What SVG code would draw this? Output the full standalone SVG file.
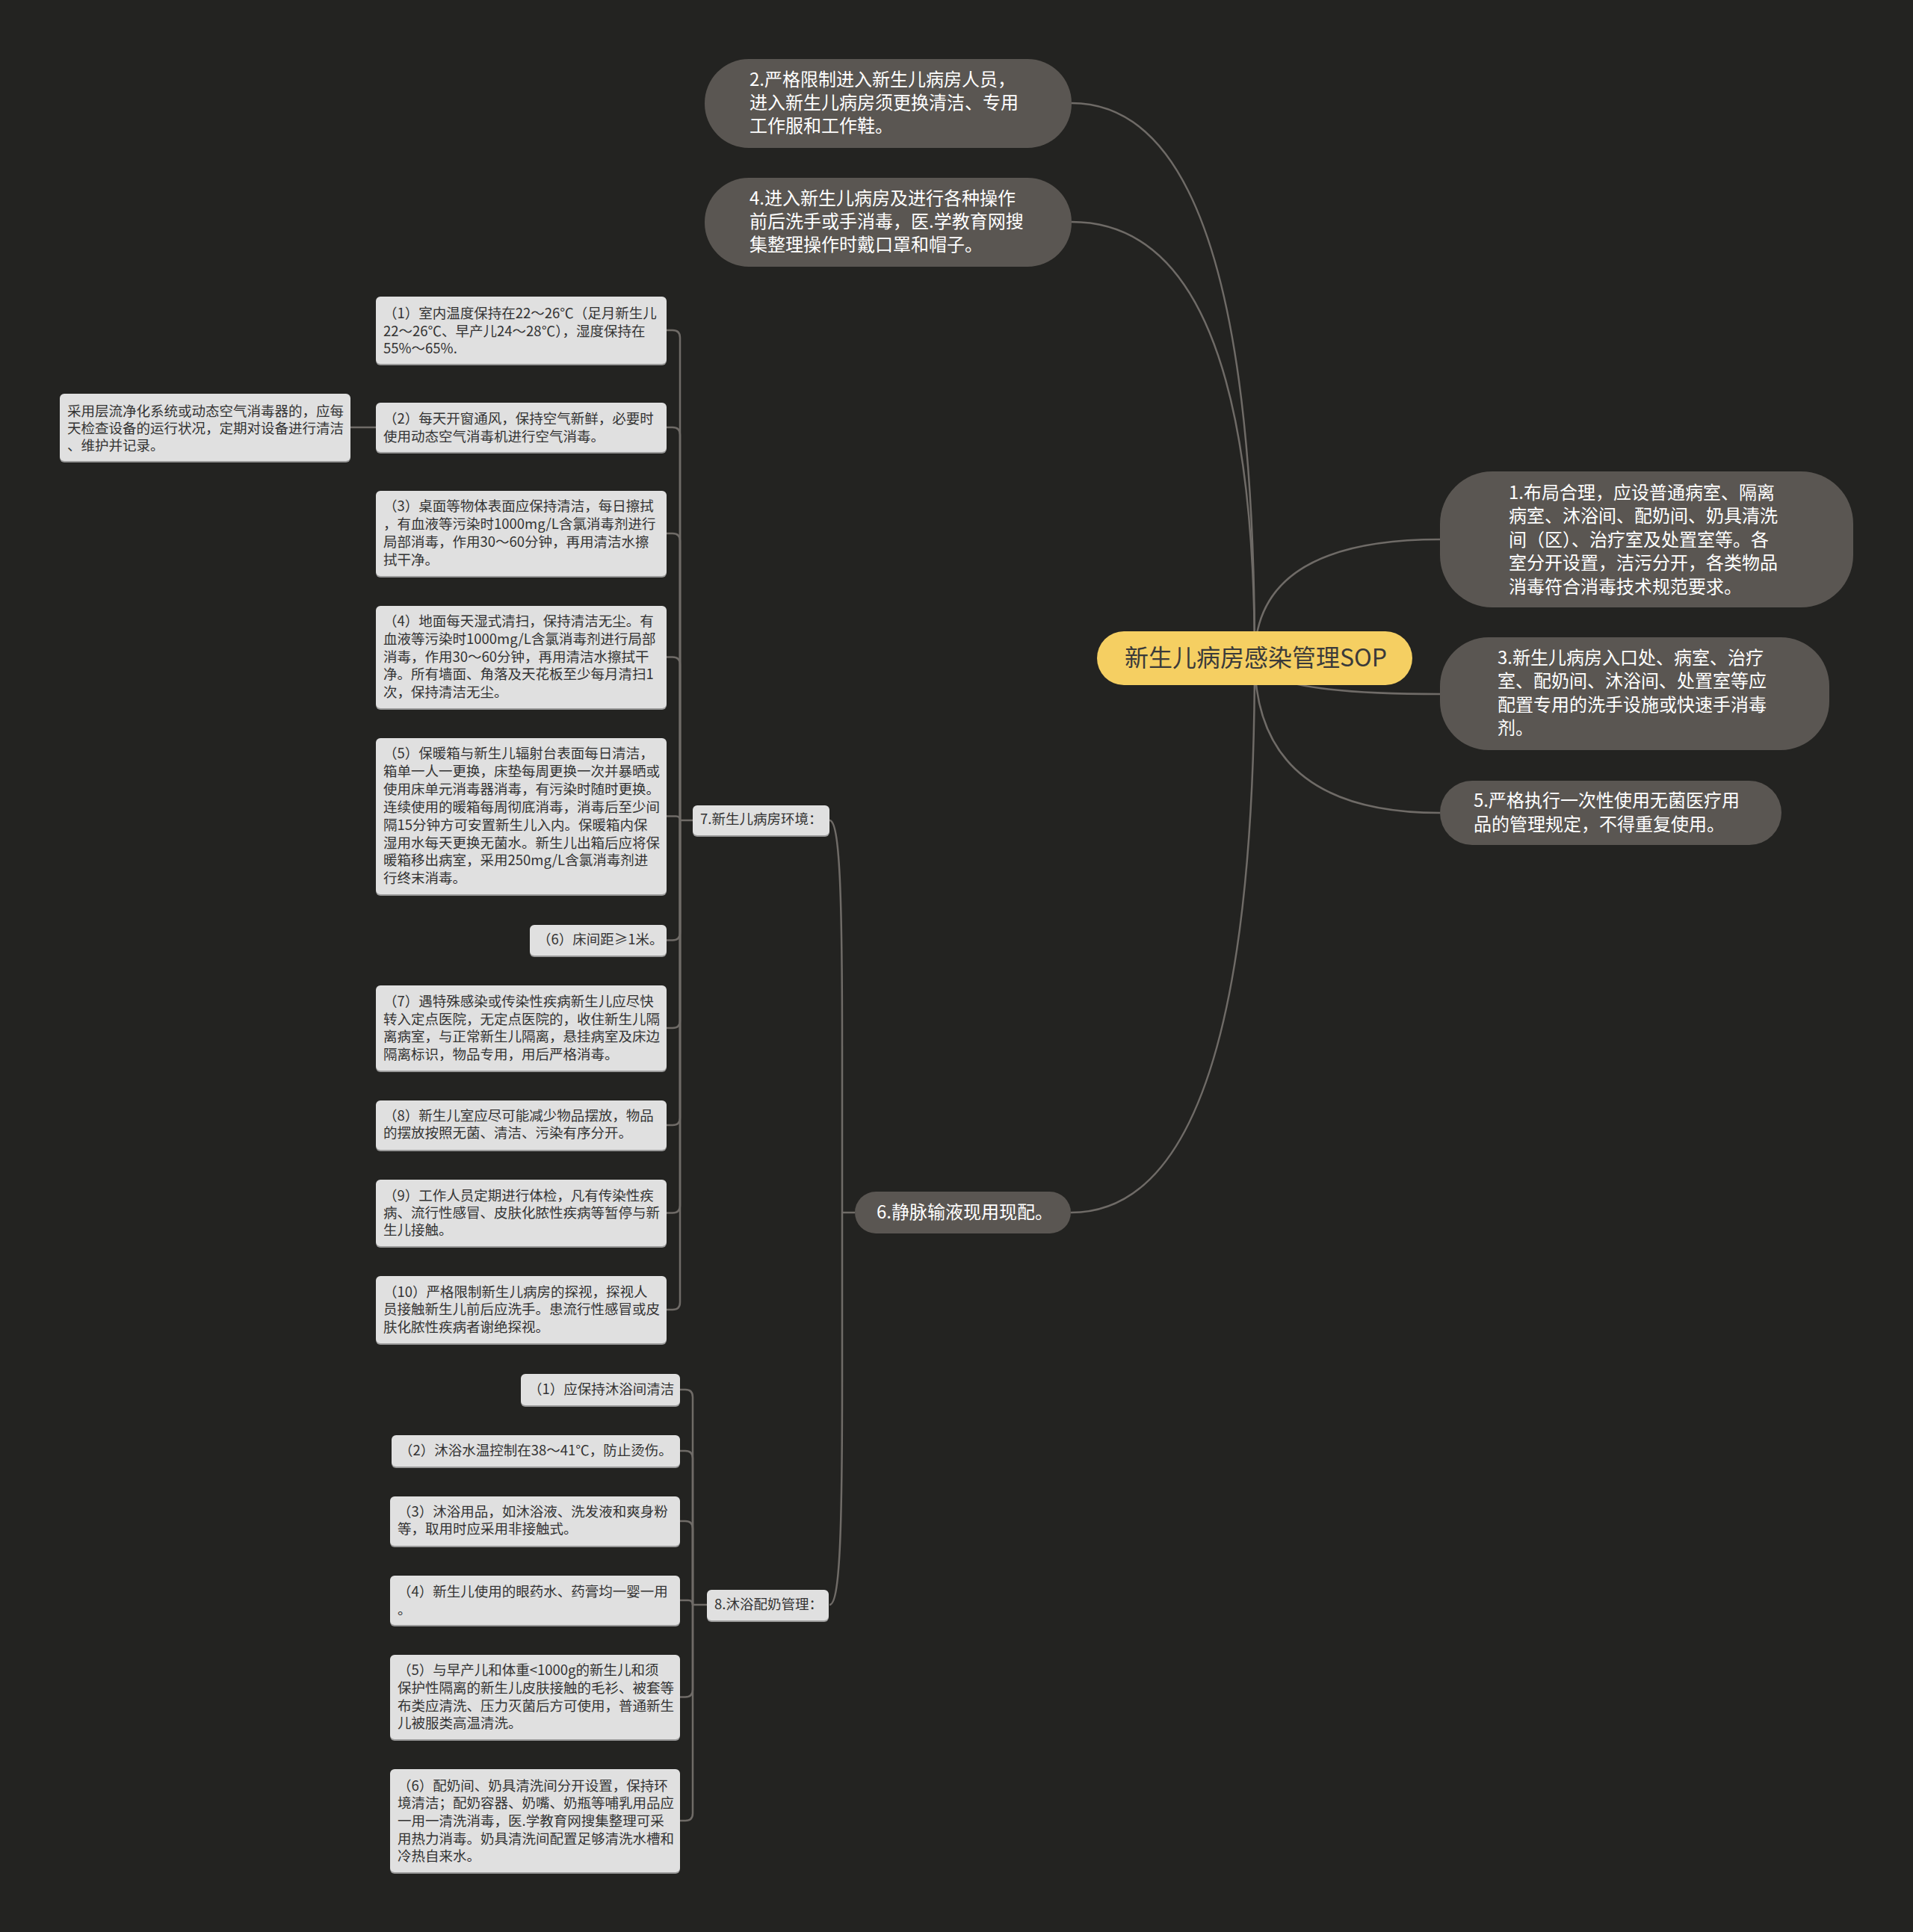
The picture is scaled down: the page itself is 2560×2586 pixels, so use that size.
<svg xmlns="http://www.w3.org/2000/svg" width="2560" height="2586" viewBox="0 0 2560 2586">
<style>
text{font-family:"Noto Sans CJK SC","Noto Sans",sans-serif;dominant-baseline:central;transform:translateY(-3px)}
.dk{fill:#5a5652}
.dt{fill:#ffffff;font-size:24px}
.lt{fill:#e0e0e0}
.ls{fill:#9a9a9a}
.tt{fill:#333333;font-size:18.5px}
.cn{fill:none;stroke:#6f6b67;stroke-width:2.5}
</style>
<rect x="0" y="0" width="2560" height="2586" fill="#232321"/>
<g id="connectors">
<path class="cn" d="M1679,881 Q1679,138 1434,138"/>
<path class="cn" d="M1679,881 Q1679,297 1434,297"/>
<path class="cn" d="M1679,881 Q1679,722 1927,722"/>
<path class="cn" d="M1679,881 Q1679,929 1927,929"/>
<path class="cn" d="M1679,881 Q1679,1088 1927,1088"/>
<path class="cn" d="M1679,881 Q1679,1623 1433,1623"/>
<path class="cn" d="M1144,1623 H1127"/>
<path class="cn" d="M1127,1623 V1400 C1127,1200 1124,1098 1110,1098"/>
<path class="cn" d="M1127,1623 V1850 C1127,2050 1124,2148 1110,2148"/>
<path class="cn" d="M927,1098 H910"/>
<path class="cn" d="M892,442 H900 Q910,442 910,452 V1098"/>
<path class="cn" d="M892,572 H900 Q910,572 910,582 V1098"/>
<path class="cn" d="M892,714 H900 Q910,714 910,724 V1098"/>
<path class="cn" d="M892,879.5 H900 Q910,879.5 910,889.5 V1098"/>
<path class="cn" d="M892,1092.5 H904.5 Q910,1092.5 910,1098"/>
<path class="cn" d="M892,1258.5 H900 Q910,1258.5 910,1248.5 V1098"/>
<path class="cn" d="M892,1376 H900 Q910,1376 910,1366 V1098"/>
<path class="cn" d="M892,1506 H900 Q910,1506 910,1496 V1098"/>
<path class="cn" d="M892,1623.5 H900 Q910,1623.5 910,1613.5 V1098"/>
<path class="cn" d="M892,1753 H900 Q910,1753 910,1743 V1098"/>
<path class="cn" d="M469,572 H503"/>
<path class="cn" d="M946,2148 H927"/>
<path class="cn" d="M910,1860 H917 Q927,1860 927,1870 V2148"/>
<path class="cn" d="M910,1942 H917 Q927,1942 927,1952 V2148"/>
<path class="cn" d="M910,2036 H917 Q927,2036 927,2046 V2148"/>
<path class="cn" d="M910,2142 H921 Q927,2142 927,2148"/>
<path class="cn" d="M910,2271.5 H917 Q927,2271.5 927,2261.5 V2148"/>
<path class="cn" d="M910,2437 H917 Q927,2437 927,2427 V2148"/>
</g>
<g id="root">
<rect x="1468" y="845" width="422" height="72" rx="36" fill="#f5cf62"/>
<text x="1505" y="881" font-size="32" fill="#3a3a3a">新生儿病房感染管理SOP</text>
</g>
<g id="n2">
<rect class="dk" x="943" y="79" width="491" height="119" rx="59"/>
<text class="dt" x="1003" y="107.5">2.严格限制进入新生儿病房人员，</text>
<text class="dt" x="1003" y="138.5">进入新生儿病房须更换清洁、专用</text>
<text class="dt" x="1003" y="169.5">工作服和工作鞋。</text>
</g>
<g id="n4">
<rect class="dk" x="943" y="238" width="491" height="119" rx="59"/>
<text class="dt" x="1003" y="266.5">4.进入新生儿病房及进行各种操作</text>
<text class="dt" x="1003" y="297.5">前后洗手或手消毒，医.学教育网搜</text>
<text class="dt" x="1003" y="328.5">集整理操作时戴口罩和帽子。</text>
</g>
<g id="n1">
<rect class="dk" x="1927" y="631" width="553" height="182" rx="70"/>
<text class="dt" x="2019" y="660">1.布局合理，应设普通病室、隔离</text>
<text class="dt" x="2019" y="691.5">病室、沐浴间、配奶间、奶具清洗</text>
<text class="dt" x="2019" y="723">间（区）、治疗室及处置室等。各</text>
<text class="dt" x="2019" y="754.5">室分开设置，洁污分开，各类物品</text>
<text class="dt" x="2019" y="786">消毒符合消毒技术规范要求。</text>
</g>
<g id="n3">
<rect class="dk" x="1927" y="853" width="521" height="151" rx="65"/>
<text class="dt" x="2004" y="881">3.新生儿病房入口处、病室、治疗</text>
<text class="dt" x="2004" y="912">室、配奶间、沐浴间、处置室等应</text>
<text class="dt" x="2004" y="944">配置专用的洗手设施或快速手消毒</text>
<text class="dt" x="2004" y="975">剂。</text>
</g>
<g id="n5">
<rect class="dk" x="1927" y="1045" width="457" height="86" rx="43"/>
<text class="dt" x="1972" y="1072.5">5.严格执行一次性使用无菌医疗用</text>
<text class="dt" x="1972" y="1104">品的管理规定，不得重复使用。</text>
</g>
<g id="n6">
<rect class="dk" x="1144" y="1595" width="289" height="56" rx="28"/>
<text class="dt" x="1173" y="1623">6.静脉输液现用现配。</text>
</g>
<g id="n7">
<rect class="ls" x="927" y="1080" width="183" height="40" rx="6"/>
<rect class="lt" x="927" y="1078" width="183" height="40" rx="6"/>
<text class="tt" x="937" y="1098">7.新生儿病房环境：</text>
</g>
<g id="n8">
<rect class="ls" x="946" y="2130" width="163" height="41" rx="6"/>
<rect class="lt" x="946" y="2128" width="163" height="41" rx="6"/>
<text class="tt" x="956" y="2148.5">8.沐浴配奶管理：</text>
</g>
<g id="side">
<rect class="ls" x="80" y="529" width="389" height="90" rx="6"/>
<rect class="lt" x="80" y="527" width="389" height="90" rx="6"/>
<text class="tt" x="90" y="552">采用层流净化系统或动态空气消毒器的，应每</text>
<text class="tt" x="90" y="575">天检查设备的运行状况，定期对设备进行清洁</text>
<text class="tt" x="90" y="598">、维护并记录。</text>
</g>
<g id="c1">
<rect class="ls" x="503" y="399" width="389" height="90" rx="6"/>
<rect class="lt" x="503" y="397" width="389" height="90" rx="6"/>
<text class="tt" x="513" y="421">（1）室内温度保持在22～26℃（足月新生儿</text>
<text class="tt" x="513" y="444.5">22～26℃、早产儿24～28℃），湿度保持在</text>
<text class="tt" x="513" y="468">55%～65%.</text>
</g>
<g id="c2">
<rect class="ls" x="503" y="541" width="389" height="66" rx="6"/>
<rect class="lt" x="503" y="539" width="389" height="66" rx="6"/>
<text class="tt" x="513" y="562">（2）每天开窗通风，保持空气新鲜，必要时</text>
<text class="tt" x="513" y="586">使用动态空气消毒机进行空气消毒。</text>
</g>
<g id="c3">
<rect class="ls" x="503" y="659" width="389" height="114" rx="6"/>
<rect class="lt" x="503" y="657" width="389" height="114" rx="6"/>
<text class="tt" x="513" y="679">（3）桌面等物体表面应保持清洁，每日擦拭</text>
<text class="tt" x="513" y="703">，有血液等污染时1000mg/L含氯消毒剂进行</text>
<text class="tt" x="513" y="727">局部消毒，作用30～60分钟，再用清洁水擦</text>
<text class="tt" x="513" y="751">拭干净。</text>
</g>
<g id="c4">
<rect class="ls" x="503" y="813" width="389" height="137" rx="6"/>
<rect class="lt" x="503" y="811" width="389" height="137" rx="6"/>
<text class="tt" x="513" y="833">（4）地面每天湿式清扫，保持清洁无尘。有</text>
<text class="tt" x="513" y="857">血液等污染时1000mg/L含氯消毒剂进行局部</text>
<text class="tt" x="513" y="881">消毒，作用30～60分钟，再用清洁水擦拭干</text>
<text class="tt" x="513" y="904">净。所有墙面、角落及天花板至少每月清扫1</text>
<text class="tt" x="513" y="928">次，保持清洁无尘。</text>
</g>
<g id="c5">
<rect class="ls" x="503" y="990" width="389" height="209" rx="6"/>
<rect class="lt" x="503" y="988" width="389" height="209" rx="6"/>
<text class="tt" x="513" y="1010">（5）保暖箱与新生儿辐射台表面每日清洁，</text>
<text class="tt" x="513" y="1034">箱单一人一更换，床垫每周更换一次并暴晒或</text>
<text class="tt" x="513" y="1057.5">使用床单元消毒器消毒，有污染时随时更换。</text>
<text class="tt" x="513" y="1081.5">连续使用的暖箱每周彻底消毒，消毒后至少间</text>
<text class="tt" x="513" y="1105.5">隔15分钟方可安置新生儿入内。保暖箱内保</text>
<text class="tt" x="513" y="1129.5">湿用水每天更换无菌水。新生儿出箱后应将保</text>
<text class="tt" x="513" y="1153">暖箱移出病室，采用250mg/L含氯消毒剂进</text>
<text class="tt" x="513" y="1177">行终末消毒。</text>
</g>
<g id="c6">
<rect class="ls" x="709" y="1240" width="183" height="41" rx="6"/>
<rect class="lt" x="709" y="1238" width="183" height="41" rx="6"/>
<text class="tt" x="719" y="1259">（6）床间距≥1米。</text>
</g>
<g id="c7">
<rect class="ls" x="503" y="1321" width="389" height="114" rx="6"/>
<rect class="lt" x="503" y="1319" width="389" height="114" rx="6"/>
<text class="tt" x="513" y="1342">（7）遇特殊感染或传染性疾病新生儿应尽快</text>
<text class="tt" x="513" y="1366">转入定点医院，无定点医院的，收住新生儿隔</text>
<text class="tt" x="513" y="1389">离病室，与正常新生儿隔离，悬挂病室及床边</text>
<text class="tt" x="513" y="1413">隔离标识，物品专用，用后严格消毒。</text>
</g>
<g id="c8">
<rect class="ls" x="503" y="1475" width="389" height="66" rx="6"/>
<rect class="lt" x="503" y="1473" width="389" height="66" rx="6"/>
<text class="tt" x="513" y="1495">（8）新生儿室应尽可能减少物品摆放，物品</text>
<text class="tt" x="513" y="1518">的摆放按照无菌、清洁、污染有序分开。</text>
</g>
<g id="c9">
<rect class="ls" x="503" y="1581" width="389" height="89" rx="6"/>
<rect class="lt" x="503" y="1579" width="389" height="89" rx="6"/>
<text class="tt" x="513" y="1602">（9）工作人员定期进行体检，凡有传染性疾</text>
<text class="tt" x="513" y="1625">病、流行性感冒、皮肤化脓性疾病等暂停与新</text>
<text class="tt" x="513" y="1648">生儿接触。</text>
</g>
<g id="c10">
<rect class="ls" x="503" y="1710" width="389" height="90" rx="6"/>
<rect class="lt" x="503" y="1708" width="389" height="90" rx="6"/>
<text class="tt" x="513" y="1731">（10）严格限制新生儿病房的探视，探视人</text>
<text class="tt" x="513" y="1754">员接触新生儿前后应洗手。患流行性感冒或皮</text>
<text class="tt" x="513" y="1778">肤化脓性疾病者谢绝探视。</text>
</g>
<g id="d1">
<rect class="ls" x="697" y="1841" width="213" height="42" rx="6"/>
<rect class="lt" x="697" y="1839" width="213" height="42" rx="6"/>
<text class="tt" x="707" y="1861">（1）应保持沐浴间清洁</text>
</g>
<g id="d2">
<rect class="ls" x="524" y="1923" width="386" height="42" rx="6"/>
<rect class="lt" x="524" y="1921" width="386" height="42" rx="6"/>
<text class="tt" x="534" y="1943">（2）沐浴水温控制在38～41℃，防止烫伤。</text>
</g>
<g id="d3">
<rect class="ls" x="522" y="2005" width="388" height="66" rx="6"/>
<rect class="lt" x="522" y="2003" width="388" height="66" rx="6"/>
<text class="tt" x="532" y="2025">（3）沐浴用品，如沐浴液、洗发液和爽身粉</text>
<text class="tt" x="532" y="2048">等，取用时应采用非接触式。</text>
</g>
<g id="d4">
<rect class="ls" x="522" y="2111" width="388" height="66" rx="6"/>
<rect class="lt" x="522" y="2109" width="388" height="66" rx="6"/>
<text class="tt" x="532" y="2132">（4）新生儿使用的眼药水、药膏均一婴一用</text>
<text class="tt" x="532" y="2155.5">。</text>
</g>
<g id="d5">
<rect class="ls" x="522" y="2217" width="388" height="113" rx="6"/>
<rect class="lt" x="522" y="2215" width="388" height="113" rx="6"/>
<text class="tt" x="532" y="2237">（5）与早产儿和体重&lt;1000g的新生儿和须</text>
<text class="tt" x="532" y="2261">保护性隔离的新生儿皮肤接触的毛衫、被套等</text>
<text class="tt" x="532" y="2285">布类应清洗、压力灭菌后方可使用，普通新生</text>
<text class="tt" x="532" y="2308">儿被服类高温清洗。</text>
</g>
<g id="d6">
<rect class="ls" x="522" y="2370" width="388" height="138" rx="6"/>
<rect class="lt" x="522" y="2368" width="388" height="138" rx="6"/>
<text class="tt" x="532" y="2391.5">（6）配奶间、奶具清洗间分开设置，保持环</text>
<text class="tt" x="532" y="2415">境清洁；配奶容器、奶嘴、奶瓶等哺乳用品应</text>
<text class="tt" x="532" y="2438.5">一用一清洗消毒，医.学教育网搜集整理可采</text>
<text class="tt" x="532" y="2462.5">用热力消毒。奶具清洗间配置足够清洗水槽和</text>
<text class="tt" x="532" y="2486">冷热自来水。</text>
</g>
</svg>
